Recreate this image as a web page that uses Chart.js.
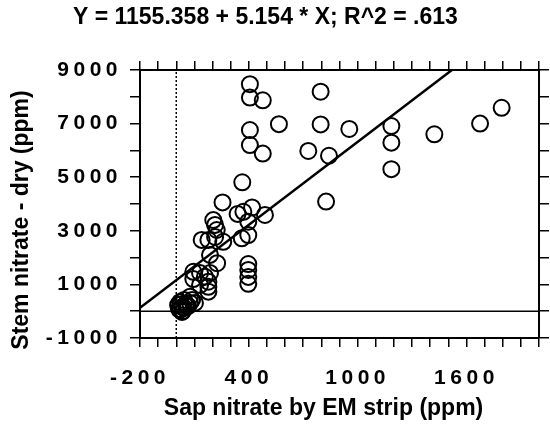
<!DOCTYPE html>
<html>
<head>
<meta charset="utf-8">
<script src="https://cdn.jsdelivr.net/npm/chart.js@4"></script>
<style>
  html, body { margin: 0; padding: 0; background: #fff; }
  #wrap { width: 550px; height: 433px; }
</style>
</head>
<body>
<div id="wrap"><canvas id="myChart"></canvas></div>
<script>
// Sap nitrate (x) vs stem nitrate dry (y)
const sapNitrate = [406, 406, 477, 566, 406, 406, 477, 364, 796, 796, 954, 1186, 1186, 1186, 728, 842, 1423, 1675, 1794, 826,
  255, 338, 370, 418, 489, 397, 214, 223, 204, 140, 177, 259, 361, 397, 186, 214, 225, 94, 131, 186,
  158, 94, 177, 177, 177, 131, 397, 397, 397, 397, 76,
  10, 21, 32, 43, 54, 65, 76, 15, 37, 87, 103, 21, 32, 43, 54, 26];
const stemNitrate = [8470, 7970, 7870, 6980, 6760, 6200, 5880, 4810, 8190, 6970, 6800, 6910, 6290, 5300, 5980, 5800, 6600, 7000, 7590, 4090,
  4060, 3630, 3710, 3870, 3590, 3340, 3220, 3030, 3400, 2660, 2660, 2590, 2720, 2840, 2100, 2770, 1790, 1470, 1430, 1430,
  1290, 1200, 1100, 910, 730, 980, 1760, 1540, 1280, 1020, 540,
  230, 340, 160, 420, 270, 190, 310, 80, 10, 420, 310, 45, -30, 120, 190, 260];

// regression line Y = 1155.358 + 5.154 * X (end points as read)
const fitX = [-200, 1520];
const fitY = [125, 9000];

// reference lines
const zeroX = [-200, 2000];
const zeroY = [0, 0];
const vertX = [0, 0];
const vertY = [-1000, 9000];

const xTickLabels = [-200, 400, 1000, 1600];
const yTickLabels = [-1000, 1000, 3000, 5000, 7000, 9000];

const fontFamily = '"Liberation Sans", Arial, Helvetica, sans-serif';

// wide tracking on tick labels like the original
const origDrawLabels = Chart.Scale.prototype.drawLabels;
Chart.Scale.prototype.drawLabels = function (area) {
  this.ctx.save();
  this.ctx.letterSpacing = '4.5px';
  origDrawLabels.call(this, area);
  this.ctx.restore();
};

const toPts = (xs, ys) => xs.map((x, i) => ({ x: x, y: ys[i] }));

const ctx = document.getElementById('myChart').getContext('2d');

const tickFont = { family: fontFamily, size: 21, weight: 'bold' };
const titleFont = { family: fontFamily, size: 23, weight: 'bold' };

new Chart(ctx, {
  type: 'scatter',
  data: {
    datasets: [
      {
        label: 'zero',
        data: toPts(zeroX, zeroY),
        showLine: true,
        borderColor: '#000',
        borderWidth: 1.5,
        pointRadius: 0
      },
      {
        label: 'x=0',
        data: toPts(vertX, vertY),
        showLine: true,
        borderColor: '#000',
        borderWidth: 1.5,
        borderDash: [2, 2],
        pointRadius: 0
      },
      {
        label: 'fit',
        data: toPts(fitX, fitY),
        showLine: true,
        borderColor: '#000',
        borderWidth: 2.5,
        pointRadius: 0
      },
      {
        label: 'Stem nitrate',
        data: toPts(sapNitrate, stemNitrate),
        pointRadius: 8,
        pointBorderWidth: 2,
        pointBorderColor: '#000',
        pointBackgroundColor: 'rgba(0,0,0,0)'
      }
    ]
  },
  options: {
    responsive: true,
    maintainAspectRatio: false,
    animation: false,
    layout: { padding: 0 },
    plugins: {
      legend: { display: false },
      tooltip: { enabled: false },
      title: {
        display: true,
        text: 'Y = 1155.358 + 5.154 * X; R^2 = .613   ',
        color: '#000',
        font: { family: fontFamily, size: 23, weight: 'bold' },
        padding: { top: 4, bottom: 4 }
      }
    },
    scales: {
      x: {
        type: 'linear',
        position: 'bottom',
        min: -200,
        max: 2000,
        afterFit: (s) => { s.height = 95; s.paddingLeft = 0; s.paddingRight = 0; },
        ticks: {
          stepSize: 100,
          autoSkip: false,
          maxRotation: 0,
          color: '#000',
          font: tickFont,
          padding: 19,
          callback: (v) => xTickLabels.includes(v) ? String(v) : ''
        },
        grid: { drawOnChartArea: false, tickLength: 9, color: '#000', lineWidth: 1.5 },
        border: { color: '#000', width: 2 },
        title: {
          display: true,
          text: 'Sap nitrate by EM strip (ppm)     ',
          color: '#000',
          font: titleFont,
          padding: { top: 0, bottom: 11 }
        }
      },
      xTop: {
        type: 'linear',
        position: 'top',
        min: -200,
        max: 2000,
        afterFit: (s) => { s.height = 70 - 35.6; s.paddingLeft = 0; s.paddingRight = 0; },
        ticks: { stepSize: 100, autoSkip: false, display: false },
        grid: { drawOnChartArea: false, tickLength: 9, color: '#000', lineWidth: 1.5 },
        border: { color: '#000', width: 2 }
      },
      y: {
        type: 'linear',
        position: 'left',
        min: -1000,
        max: 9000,
        afterFit: (s) => { s.width = 140; },
        ticks: {
          stepSize: 1000,
          autoSkip: false,
          color: '#000',
          font: tickFont,
          padding: 8,
          callback: (v) => yTickLabels.includes(v) ? String(v) : ''
        },
        grid: { drawOnChartArea: false, tickLength: 10, color: '#000', lineWidth: 1.5 },
        border: { color: '#000', width: 2 },
        title: {
          display: true,
          text: 'Stem nitrate - dry (ppm)     ',
          color: '#000',
          font: titleFont,
          padding: { top: 8, bottom: 0 }
        }
      },
      yRight: {
        type: 'linear',
        position: 'right',
        min: -1000,
        max: 9000,
        afterFit: (s) => { s.width = 11; },
        ticks: { stepSize: 1000, autoSkip: false, display: false },
        grid: { drawOnChartArea: false, tickLength: 10, color: '#000', lineWidth: 1.5 },
        border: { color: '#000', width: 2 }
      }
    }
  }
});
</script>
</body>
</html>
